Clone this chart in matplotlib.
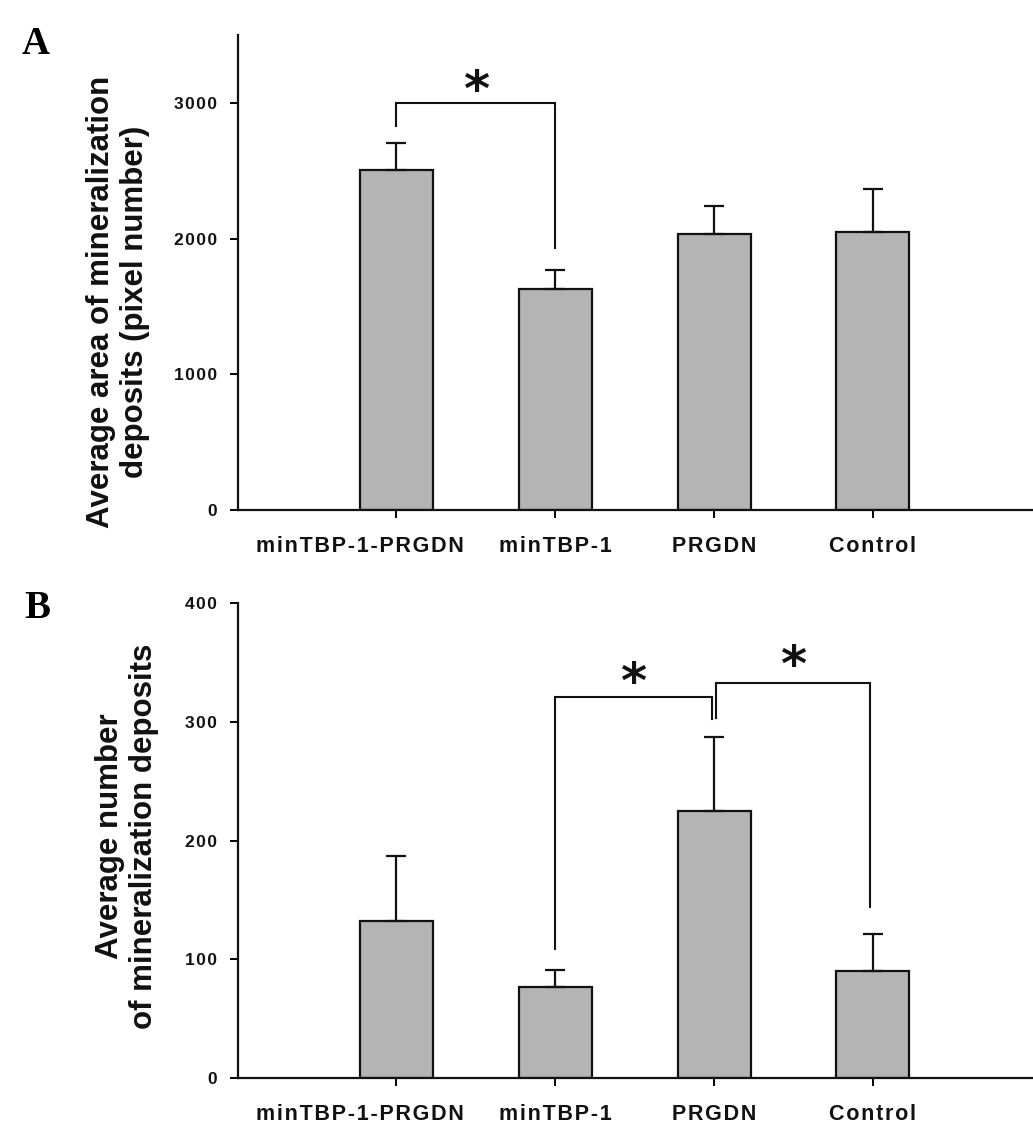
import matplotlib
matplotlib.use("Agg")
import matplotlib.pyplot as plt

# ---- data ----
categories = ["minTBP-1-PRGDN", "minTBP-1", "PRGDN", "Control"]
area_mean = [2505, 1626, 2034, 2047]
area_err = [202, 140, 203, 319]
number_mean = [132, 77, 225, 90.5]
number_err = [55, 14, 62, 31]
area_yticks = [0, 1000, 2000, 3000]
number_yticks = [0, 100, 200, 300, 400]

# significance brackets: (x_left, x_right, bar_height, left_leg_bottom, right_leg_bottom, star_y)
area_brackets = [(1, 2, 3000, 2832, 1929, 3080)]
number_brackets = [(2, 2.985, 321, 109, 302, 332),
                   (3.015, 3.985, 333, 303, 144, 346)]

SANS = "Liberation Sans"
HS = "\u200a"
TICK_LEN, XPAD = 6, 13


def spaced(s):
    return HS.join(s)


fig = plt.figure(figsize=(10.33, 11.28), dpi=100)
axA = fig.add_axes([0.2301, 0.5479, 0.7686, 0.4211])
axB = fig.add_axes([0.2301, 0.0443, 0.7686, 0.4211])

xpos = list(range(1, len(categories) + 1))
xfont = dict(fontfamily=SANS, fontweight="bold", fontsize=15.5, color="#111111")


def style(ax, ymax, yticks):
    ax.set_xlim(0, 5)
    ax.set_ylim(0, ymax)
    for s in ("top", "right"):
        ax.spines[s].set_visible(False)
    for s in ("left", "bottom"):
        ax.spines[s].set_linewidth(1.6)
        ax.spines[s].set_color("#111111")
    ax.set_yticks(yticks)
    ax.set_yticklabels([spaced(str(t)) for t in yticks], fontfamily=SANS,
                       fontweight="bold", fontsize=12.5, color="#111111")
    ax.set_xticks(xpos)
    # the first label sits to the left of its bar in the original figure
    ax.set_xticklabels([""] + [spaced(c) for c in categories[1:]], **xfont)
    ax.annotate(spaced(categories[0]), xy=(xpos[0], 0),
                xycoords=("data", "axes fraction"),
                xytext=(-37 * 0.72, -(TICK_LEN + XPAD)),
                textcoords="offset points", ha="center", va="top", **xfont)
    ax.tick_params(axis="y", direction="out", length=TICK_LEN, width=1.4, pad=9)
    ax.tick_params(axis="x", direction="out", length=TICK_LEN, width=1.4, pad=XPAD)


def draw(ax, means, errs, brackets, star_fs):
    ax.bar(xpos, means, width=0.46, color="#b4b4b4", edgecolor="#111111",
           linewidth=1.6, zorder=2)
    ax.errorbar(xpos, means, yerr=[[0] * len(errs), errs], fmt="none",
                ecolor="#111111", elinewidth=1.6, capsize=7, capthick=1.6,
                zorder=3)
    for (x1, x2, h, b1, b2, sy) in brackets:
        ax.plot([x1, x1, x2, x2], [b1, h, h, b2], color="#111111", lw=1.5,
                solid_joinstyle="miter", zorder=4)
        ax.text((x1 + x2) / 2, sy, "*", ha="center", va="center",
                fontsize=star_fs, fontweight="bold", fontfamily="DejaVu Sans",
                color="#111111")


style(axA, 3500, area_yticks)
draw(axA, area_mean, area_err, area_brackets, 36)
style(axB, 400, number_yticks)
draw(axB, number_mean, number_err, number_brackets, 36)

fig.text(118 / 1033, 1 - 302 / 1128,
         "Average area of mineralization\ndeposits (pixel number)",
         rotation=90, ha="center", va="center", fontsize=22.5,
         fontweight="bold", fontfamily=SANS, linespacing=1.2,
         multialignment="center", color="#111111")
fig.text(127 / 1033, 1 - 836 / 1128,
         "Average number\nof mineralization deposits",
         rotation=90, ha="center", va="center", fontsize=22.5,
         fontweight="bold", fontfamily=SANS, linespacing=1.2,
         multialignment="center", color="#111111")

fig.text(36 / 1033, 1 - 44 / 1128, "A", ha="center", va="center",
         fontsize=28, fontweight="bold", fontfamily="Liberation Serif")
fig.text(37 / 1033, 1 - 608 / 1128, "B", ha="center", va="center",
         fontsize=28, fontweight="bold", fontfamily="Liberation Serif")

fig.savefig("out.png", dpi=100, facecolor="white")
